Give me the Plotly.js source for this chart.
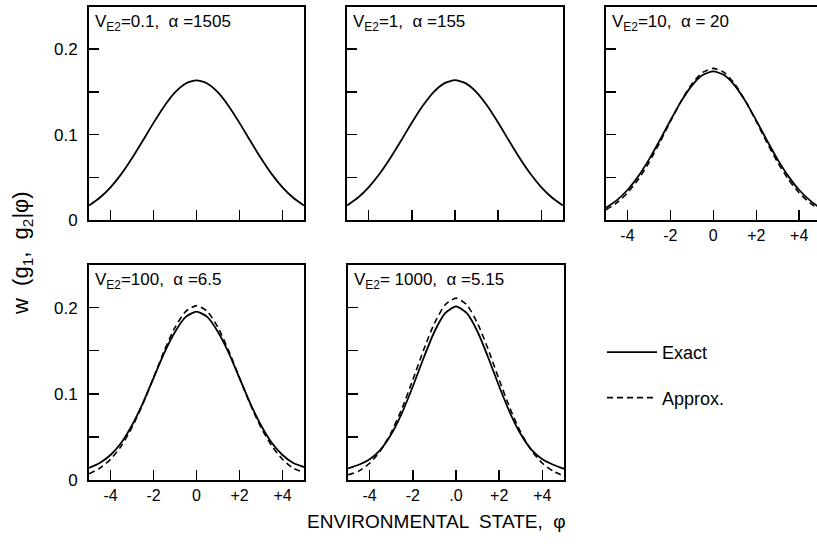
<!DOCTYPE html>
<html><head><meta charset="utf-8">
<script src="https://cdn.plot.ly/plotly-3.0.1.min.js"></script>
<style>html,body{margin:0;padding:0;background:#fff}#chart{width:817px;height:552px}</style>
</head><body><div id="chart"></div>
<script>
// environmental state phi
var phi = [-5,-4.5,-4,-3.5,-3,-2.5,-2,-1.5,-1,-0.5,0,0.5,1,1.5,2,2.5,3,3.5,4,4.5,5];

// Panel 1: V_E2 = 0.1, alpha = 1505 (exact only)
var exact1 = [0.0169,0.0260,0.0382,0.0537,0.0722,0.0927,0.1137,0.1333,0.1494,0.1599,0.1636,0.1599,0.1494,0.1333,0.1137,0.0927,0.0722,0.0537,0.0382,0.0260,0.0169];
// Panel 2: V_E2 = 1, alpha = 155 (exact only)
var exact2 = [0.0170,0.0261,0.0383,0.0538,0.0723,0.0928,0.1138,0.1334,0.1495,0.1600,0.1637,0.1600,0.1495,0.1334,0.1138,0.0928,0.0723,0.0538,0.0383,0.0261,0.0170];
// Panel 3: V_E2 = 10, alpha = 20
var exact3 = [0.0143,0.0230,0.0351,0.0511,0.0707,0.0931,0.1166,0.1389,0.1574,0.1697,0.1740,0.1697,0.1574,0.1389,0.1166,0.0931,0.0707,0.0511,0.0351,0.0230,0.0135];
var approx3 = [0.0120,0.0200,0.0317,0.0474,0.0673,0.0905,0.1154,0.1393,0.1594,0.1728,0.1775,0.1728,0.1594,0.1393,0.1154,0.0905,0.0673,0.0474,0.0317,0.0200,0.0115];
// Panel 4: V_E2 = 100, alpha = 6.5
var exact4 = [0.0140,0.0197,0.0290,0.0432,0.0635,0.0890,0.1182,0.1475,0.1718,0.1892,0.1954,0.1892,0.1718,0.1475,0.1182,0.0890,0.0635,0.0432,0.0290,0.0197,0.0150];
var approx4 = [0.0072,0.0136,0.0240,0.0395,0.0609,0.0879,0.1187,0.1499,0.1771,0.1957,0.2023,0.1957,0.1771,0.1499,0.1187,0.0879,0.0609,0.0395,0.0240,0.0136,0.0090];
// Panel 5: V_E2 = 1000, alpha = 5.15
var exact5 = [0.0135,0.0177,0.0240,0.0350,0.0530,0.0780,0.1085,0.1415,0.1720,0.1935,0.2015,0.1935,0.1720,0.1415,0.1085,0.0780,0.0530,0.0350,0.0240,0.0177,0.0130];
var approx5 = [0.0060,0.0103,0.0194,0.0339,0.0551,0.0830,0.1162,0.1508,0.1817,0.2033,0.2110,0.2033,0.1817,0.1508,0.1162,0.0830,0.0551,0.0339,0.0194,0.0103,0.0045];

var panelTitles = ["V<sub>E2</sub>=0.1,  α =1505","V<sub>E2</sub>=1,  α =155","V<sub>E2</sub>=10,  α = 20","V<sub>E2</sub>=100,  α =6.5","V<sub>E2</sub>= 1000,  α =5.15"];
var xTickVals = [-4,-2,0,2,4];
var xTickText = ["-4","-2","0","+2","+4"];
var xTickText5 = ["-4","-2",".0","+2","+4"];
var yTickVals = [0,0.05,0.1,0.15,0.2];
var yTickText = ["0","","0.1","","0.2"];

var W = 817, H = 552;
function px(a,b){return [a/W,b/W];}
function py(top,bot){return [1-bot/H,1-top/H];}

var FONT = "Liberation Sans, Arial, sans-serif";
var sol = {color:"#000",width:1.8,shape:"spline",smoothing:0.6};
var dsh = {color:"#000",width:1.6,dash:"6px,4px",shape:"spline",smoothing:0.6};

var data = [
  {x:phi,y:exact1,xaxis:"x",yaxis:"y",mode:"lines",line:sol,showlegend:false},
  {x:phi,y:exact2,xaxis:"x2",yaxis:"y2",mode:"lines",line:sol,showlegend:false},
  {x:phi,y:approx3,xaxis:"x3",yaxis:"y3",mode:"lines",line:dsh,showlegend:false},
  {x:phi,y:exact3,xaxis:"x3",yaxis:"y3",mode:"lines",line:sol,showlegend:false},
  {x:phi,y:approx4,xaxis:"x4",yaxis:"y4",mode:"lines",line:dsh,showlegend:false},
  {x:phi,y:exact4,xaxis:"x4",yaxis:"y4",mode:"lines",line:sol,showlegend:false},
  {x:phi,y:approx5,xaxis:"x5",yaxis:"y5",mode:"lines",line:dsh,name:"Approx.",legendgroup:"b",legendrank:2},
  {x:phi,y:exact5,xaxis:"x5",yaxis:"y5",mode:"lines",line:sol,name:"Exact",legendgroup:"a",legendrank:1}
];

function xax(dom,showLabels,txt,anchor,rng){
  return {domain:dom,range:rng||[-5,5],anchor:anchor,showgrid:false,zeroline:false,
    showline:true,linecolor:"#000",linewidth:2,mirror:true,
    ticks:"inside",ticklen:10,tickwidth:1.5,tickcolor:"#000",
    tickmode:"array",tickvals:xTickVals,ticktext:txt||xTickText,
    showticklabels:showLabels,tickfont:{family:FONT,size:16,color:"#000"},fixedrange:true};
}
function yax(dom,showLabels,anchor){
  return {domain:dom,range:[0,0.25],anchor:anchor,showgrid:false,zeroline:false,
    showline:true,linecolor:"#000",linewidth:2,mirror:true,
    ticks:"inside",ticklen:10,tickwidth:1.5,tickcolor:"#000",
    tickmode:"array",tickvals:yTickVals,ticktext:yTickText,
    showticklabels:showLabels,tickfont:{family:FONT,size:17,color:"#000"},ticklabelstandoff:6,fixedrange:true};
}

var top1 = py(6.5,220), top2 = py(264.5,480);
var d1 = px(89,304), d2 = px(347,563), d3 = [606/W,1], d5 = px(348,564);

var annos = [];
var pos = [[d1,top1],[d2,top1],[d3,top1],[d1,top2],[d5,top2]];
for (var i=0;i<5;i++){
  annos.push({text:panelTitles[i],xref:"paper",yref:"paper",x:pos[i][0][0]+4/W,y:pos[i][1][1]-3/H,
    xanchor:"left",yanchor:"top",showarrow:false,font:{family:FONT,size:17,color:"#000"}});
}
annos.push({text:"w  (g<sub>1</sub>,  g<sub>2</sub>|φ)",xref:"paper",yref:"paper",x:22/W,y:1-253/H,
  xanchor:"center",yanchor:"middle",textangle:-90,showarrow:false,font:{family:FONT,size:22,color:"#000"}});
annos.push({text:"ENVIRONMENTAL  STATE,  φ",xref:"paper",yref:"paper",x:436/W,y:1-521/H,
  xanchor:"center",yanchor:"middle",showarrow:false,font:{family:FONT,size:19,color:"#000"}});

var layout = {
  width:W,height:H,margin:{l:0,r:0,t:0,b:0},paper_bgcolor:"#fff",plot_bgcolor:"#fff",
  font:{family:FONT,color:"#000"},
  xaxis:xax(d1,false,null,"y"), yaxis:yax(top1,true,"x"),
  xaxis2:xax(d2,false,null,"y2"), yaxis2:yax(top1,false,"x2"),
  xaxis3:xax(d3,true,null,"y3",[-5,4.83]), yaxis3:yax(top1,false,"x3"),
  xaxis4:xax(d1,true,null,"y4"), yaxis4:yax(top2,true,"x4"),
  xaxis5:xax(d5,true,xTickText5,"y5"), yaxis5:yax(top2,false,"x5"),
  showlegend:true,
  legend:{x:602/W,y:1-334/H,xanchor:"left",yanchor:"top",traceorder:"grouped",tracegroupgap:19,
    font:{family:FONT,size:18,color:"#000"},bgcolor:"rgba(0,0,0,0)",itemwidth:50},
  annotations:annos
};
Plotly.newPlot("chart",data,layout,{staticPlot:true,displayModeBar:false});
</script></body></html>
